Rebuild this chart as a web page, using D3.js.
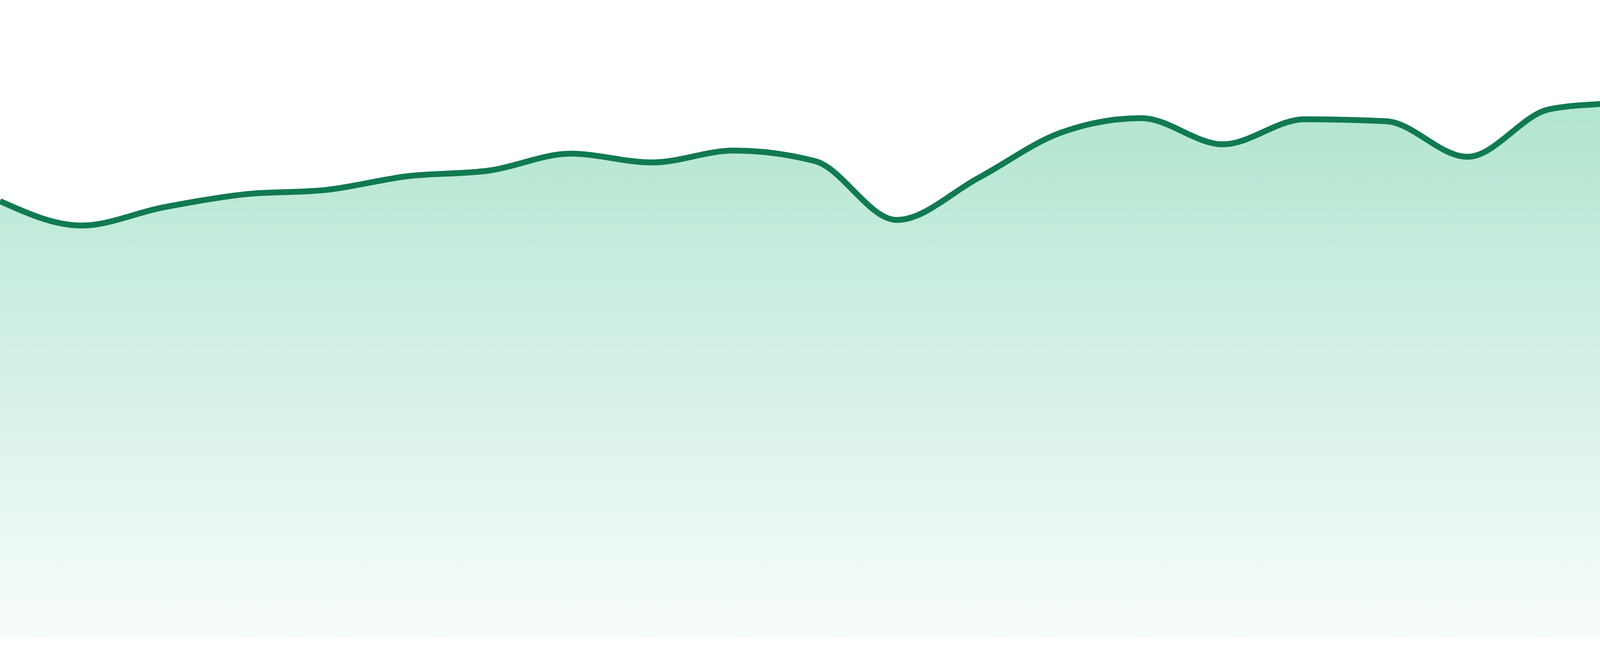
<!DOCTYPE html>
<html>
<head>
<meta charset="utf-8">
<script src="https://cdn.jsdelivr.net/npm/d3@7"></script>
<style>
  html, body { margin: 0; padding: 0; background: #fff; }
  svg { display: block; }
</style>
</head>
<body>
<div id="chart"></div>
<script>
// one reading per step, left to right
const steps = d3.range(24);
const values = [
  69.8, 65.9, 68.8, 70.9, 71.6, 73.8, 74.7, 77.4, 76.0, 77.9, 76.2, 66.8,
  73.5, 80.7, 83.1, 78.9, 82.9, 82.6, 76.9, 84.5, 85.9, 89.3, 86.5, 81.1
];
const yDomain = [0, 102];

const width = 4800;
const height = 1680;
const margin = { top: 0, right: 0, bottom: 48, left: 0 };

const data = steps.map((s, i) => ({ step: s, value: values[i] }));

const svg = d3
  .select('#chart')
  .append('svg')
  .attr('width', width)
  .attr('height', height)
  .attr('viewBox', `0 0 ${width} ${height}`);

const x = d3
  .scaleLinear()
  .domain(d3.extent(steps))
  .range([margin.left, width - margin.right]);

const y = d3
  .scaleLinear()
  .domain(yDomain)
  .range([height - margin.bottom, margin.top]);

// soft green fade under the line
const grad = svg
  .append('defs')
  .append('linearGradient')
  .attr('id', 'fade')
  .attr('gradientUnits', 'userSpaceOnUse')
  .attr('x1', 0)
  .attr('x2', 0)
  .attr('y1', y(d3.max(values)))
  .attr('y2', y(0));

grad
  .append('stop')
  .attr('offset', '0%')
  .attr('stop-color', '#17b273')
  .attr('stop-opacity', 0.35);

grad
  .append('stop')
  .attr('offset', '100%')
  .attr('stop-color', '#17b273')
  .attr('stop-opacity', 0.03);

const area = d3
  .area()
  .x((d) => x(d.step))
  .y0(y(0))
  .y1((d) => y(d.value))
  .curve(d3.curveMonotoneX);

const line = d3
  .line()
  .x((d) => x(d.step))
  .y((d) => y(d.value))
  .curve(d3.curveMonotoneX);

svg
  .append('path')
  .datum(data)
  .attr('d', area)
  .attr('fill', 'url(#fade)');

svg
  .append('path')
  .datum(data)
  .attr('d', line)
  .attr('fill', 'none')
  .attr('stroke', '#117a52')
  .attr('stroke-width', 15)
  .attr('stroke-linejoin', 'round');
</script>
</body>
</html>
